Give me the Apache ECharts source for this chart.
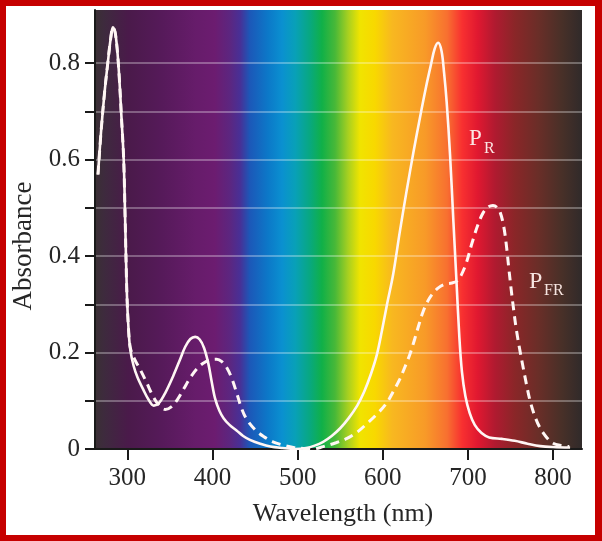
<!DOCTYPE html>
<html>
<head>
<meta charset="utf-8">
<script src="https://cdn.jsdelivr.net/npm/echarts@6/dist/echarts.min.js"></script>
<style>
  html, body { margin: 0; padding: 0; background: #ffffff; }
  #frame { position: relative; width: 602px; height: 541px; background: #c60000; overflow: hidden; }
  #paper { position: absolute; left: 6px; top: 6px; width: 589px; height: 529px; background: #ffffff; }
  #chart { position: absolute; left: 0; top: 0; width: 602px; height: 541px; }
</style>
</head>
<body>
<div id="frame"><div id="paper"></div><div id="chart"></div></div>
<script>
// ---- data ----
const xTicks = [300, 400, 500, 600, 700, 800];
const yTickValues = [0, 0.1, 0.2, 0.3, 0.4, 0.5, 0.6, 0.7, 0.8];
const yLabelValues = [0, 0.2, 0.4, 0.6, 0.8];

// P_R (solid curve)
const prWavelength = [265.5, 269, 273, 277, 280.5, 283, 285.5, 288, 290.5, 293, 295.7, 297.5, 299.5, 301.5, 303.5, 307.4, 312, 319, 325, 331, 337, 345, 354, 362, 368, 374, 379.7, 385, 390, 395, 399, 403, 408, 413, 420, 428.6, 436, 444, 456, 468, 482, 497, 510, 520, 530, 540, 550, 560, 570, 578, 586, 593, 599, 605, 612, 620, 628, 636, 644, 651, 657, 661, 665, 669, 672, 675, 679, 683, 686.5, 690, 693, 697, 702, 708, 716, 725, 740, 755, 770, 785, 800, 820];
const prAbsorbance = [0.569, 0.655, 0.735, 0.80, 0.852, 0.874, 0.865, 0.83, 0.77, 0.69, 0.60, 0.47, 0.32, 0.245, 0.205, 0.172, 0.148, 0.122, 0.102, 0.09, 0.095, 0.118, 0.152, 0.186, 0.212, 0.228, 0.2325, 0.227, 0.21, 0.178, 0.14, 0.105, 0.08, 0.064, 0.05, 0.038, 0.027, 0.019, 0.011, 0.005, 0.002, 0.0, 0.002, 0.007, 0.015, 0.027, 0.043, 0.064, 0.09, 0.118, 0.155, 0.195, 0.245, 0.30, 0.36, 0.45, 0.535, 0.615, 0.69, 0.752, 0.80, 0.83, 0.842, 0.825, 0.78, 0.72, 0.61, 0.47, 0.35, 0.23, 0.16, 0.11, 0.075, 0.05, 0.033, 0.024, 0.021, 0.017, 0.011, 0.006, 0.004, 0.003];

// P_FR (dashed curve)
const pfrWavelength = [265.5, 269, 273, 277, 280.5, 283, 285.5, 288, 290.5, 293, 295.7, 297.5, 299.5, 301.5, 303.5, 308, 315, 322, 330, 337, 344.5, 352, 359, 366, 374, 382, 390, 398, 405, 411, 417, 423, 428.6, 434, 440, 450, 460, 471, 483, 495, 507, 518, 530, 545, 558, 570, 581, 593, 604, 612, 620, 626, 632, 637, 642, 647, 653, 659, 666, 674, 681, 687, 692, 698, 705, 712, 718, 724, 729.4, 734, 738, 742, 745, 748, 751, 754, 757, 761, 765, 769, 773, 778, 784, 792, 800, 810, 819];
const pfrAbsorbance = [0.569, 0.655, 0.735, 0.80, 0.852, 0.874, 0.865, 0.83, 0.77, 0.69, 0.60, 0.47, 0.32, 0.245, 0.21, 0.188, 0.165, 0.14, 0.11, 0.091, 0.082, 0.088, 0.103, 0.124, 0.148, 0.167, 0.179, 0.185, 0.186, 0.181, 0.168, 0.145, 0.115, 0.085, 0.062, 0.04, 0.026, 0.015, 0.008, 0.003, 0.001, 0.0, 0.005, 0.013, 0.022, 0.035, 0.052, 0.072, 0.094, 0.118, 0.145, 0.17, 0.197, 0.225, 0.255, 0.283, 0.307, 0.323, 0.335, 0.342, 0.344, 0.348, 0.36, 0.385, 0.428, 0.466, 0.49, 0.502, 0.505, 0.501, 0.49, 0.462, 0.425, 0.375, 0.328, 0.285, 0.246, 0.205, 0.168, 0.132, 0.10, 0.071, 0.046, 0.025, 0.012, 0.007, 0.005];

// ---- build ----
const zip = (xs, ys) => xs.map((x, i) => [x, ys[i]]);

const spectrum = new echarts.graphic.LinearGradient(0, 0, 1, 0, [
  { offset: 0.000, color: '#3a3034' },
  { offset: 0.020, color: '#3e2a3e' },
  { offset: 0.068, color: '#4a1a4a' },
  { offset: 0.138, color: '#561a5a' },
  { offset: 0.205, color: '#661c6a' },
  { offset: 0.246, color: '#6c1c70' },
  { offset: 0.277, color: '#5c2680' },
  { offset: 0.298, color: '#483096' },
  { offset: 0.318, color: '#1c58b8' },
  { offset: 0.355, color: '#0c78c8' },
  { offset: 0.384, color: '#0a90d0' },
  { offset: 0.411, color: '#08a0b8' },
  { offset: 0.441, color: '#08a880' },
  { offset: 0.466, color: '#10b048' },
  { offset: 0.493, color: '#48b838' },
  { offset: 0.520, color: '#a8d020' },
  { offset: 0.544, color: '#f0e400' },
  { offset: 0.575, color: '#f8d800' },
  { offset: 0.610, color: '#f8b820' },
  { offset: 0.678, color: '#f89a28' },
  { offset: 0.723, color: '#f87030' },
  { offset: 0.754, color: '#f83030' },
  { offset: 0.786, color: '#e01830' },
  { offset: 0.821, color: '#b01a30' },
  { offset: 0.862, color: '#8a2628' },
  { offset: 0.910, color: '#6a2e28' },
  { offset: 0.959, color: '#483028' },
  { offset: 1.000, color: '#302a2a' }
]);

const serif = '"Liberation Serif", "Times New Roman", serif';
const txt = '#262626';

const chart = echarts.init(document.getElementById('chart'), null, { renderer: 'canvas' });
chart.setOption({
  backgroundColor: 'transparent',
  animation: false,
  grid: {
    left: 95, right: 20, top: 10, bottom: 92,
    show: true, backgroundColor: spectrum, borderWidth: 0
  },
  xAxis: {
    type: 'value', min: 262, max: 834,
    axisLine: { show: true, lineStyle: { color: '#1a1a1a', width: 2 } },
    axisTick: { show: true, length: 11, lineStyle: { color: '#1a1a1a', width: 2 }, customValues: xTicks },
    axisLabel: { customValues: xTicks, margin: 17, fontFamily: serif, fontSize: 25, color: txt },
    splitLine: { show: false }
  },
  yAxis: {
    type: 'value', min: 0, max: 0.91,
    axisLine: { show: true, lineStyle: { color: '#1a1a1a', width: 2 } },
    axisTick: { show: true, length: 10, lineStyle: { color: '#1a1a1a', width: 2 }, customValues: yTickValues },
    axisLabel: { customValues: yLabelValues, margin: 15, fontFamily: serif, fontSize: 25, color: txt,
      formatter: v => (v === 0 ? '0' : v.toFixed(1)) },
    splitLine: { show: true, lineStyle: { color: 'rgba(255,255,255,0.30)', width: 2 } }
  },
  series: [
    {
      name: 'P_R', type: 'line', data: zip(prWavelength, prAbsorbance),
      showSymbol: false, smooth: 0.35, z: 3,
      lineStyle: { color: '#fff6f4', width: 2.6 }
    },
    {
      name: 'P_FR', type: 'line', data: zip(pfrWavelength, pfrAbsorbance),
      showSymbol: false, smooth: 0.35, z: 4,
      lineStyle: { color: '#fff6f4', width: 3, type: [9, 6] }
    }
  ],
  graphic: [
    { type: 'text', x: 24, y: 246, rotation: Math.PI / 2, z: 10,
      style: { text: 'Absorbance', font: '27px ' + serif, fill: txt, align: 'center', verticalAlign: 'middle' } },
    { type: 'text', x: 343, y: 514, z: 10,
      style: { text: 'Wavelength (nm)', font: '26px ' + serif, fill: txt, align: 'center', verticalAlign: 'middle' } },
    { type: 'text', x: 469, y: 139, z: 10,
      style: { text: 'P', font: '23px ' + serif, fill: '#fbe6e4', align: 'left', verticalAlign: 'middle' } },
    { type: 'text', x: 484, y: 149, z: 10,
      style: { text: 'R', font: '16px ' + serif, fill: '#fbe6e4', align: 'left', verticalAlign: 'middle' } },
    { type: 'text', x: 529, y: 282, z: 10,
      style: { text: 'P', font: '24px ' + serif, fill: '#f6e4e0', align: 'left', verticalAlign: 'middle' } },
    { type: 'text', x: 544, y: 291, z: 10,
      style: { text: 'FR', font: '16px ' + serif, fill: '#f6e4e0', align: 'left', verticalAlign: 'middle' } }
  ]
});
</script>
</body>
</html>
